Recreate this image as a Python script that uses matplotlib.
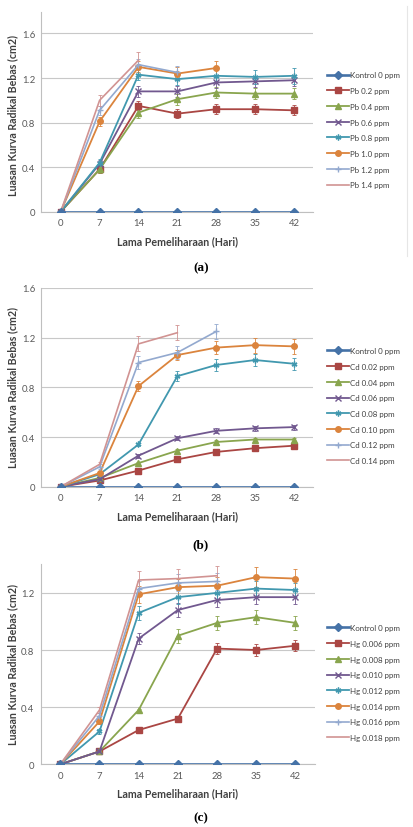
import matplotlib
matplotlib.use("Agg")
import matplotlib.pyplot as plt
from matplotlib.lines import Line2D
import numpy as np

days = [0, 7, 14, 21, 28, 35, 42]

# ---------------- Panel (a): Pb ----------------
pb_labels = ["Kontrol 0 ppm", "Pb 0.2 ppm", "Pb 0.4 ppm", "Pb 0.6 ppm",
             "Pb 0.8 ppm", "Pb 1.0 ppm", "Pb 1.2 ppm", "Pb 1.4 ppm"]
pb_kontrol = [0, 0, 0, 0, 0, 0, 0]
pb_02 = [0, 0.38, 0.95, 0.88, 0.92, 0.92, 0.91]
pb_04 = [0, 0.38, 0.89, 1.01, 1.07, 1.06, 1.06]
pb_06 = [0, 0.43, 1.08, 1.08, 1.16, 1.17, 1.18]
pb_08 = [0, 0.44, 1.23, 1.19, 1.22, 1.21, 1.22]
pb_10 = [0, 0.81, 1.30, 1.24, 1.29]
pb_12 = [0, 0.91, 1.32, 1.25]
pb_14 = [0, 1.00, 1.36]
pb_err = [None,
          [0, 0.03, 0.04, 0.04, 0.045, 0.045, 0.045],
          [0, 0.03, 0.05, 0.05, 0.05, 0.05, 0.05],
          [0, 0.03, 0.05, 0.05, 0.05, 0.05, 0.05],
          [0, 0.03, 0.05, 0.05, 0.05, 0.06, 0.07],
          [0, 0.04, 0.05, 0.06, 0.06],
          [0, 0.04, 0.05, 0.06],
          [0, 0.05, 0.07]]

# ---------------- Panel (b): Cd ----------------
cd_labels = ["Kontrol 0 ppm", "Cd 0.02 ppm", "Cd 0.04 ppm", "Cd 0.06 ppm",
             "Cd 0.08 ppm", "Cd 0.10 ppm", "Cd 0.12 ppm", "Cd 0.14 ppm"]
cd_kontrol = [0, 0, 0, 0, 0, 0, 0]
cd_002 = [0, 0.05, 0.13, 0.22, 0.28, 0.31, 0.33]
cd_004 = [0, 0.07, 0.19, 0.29, 0.36, 0.38, 0.38]
cd_006 = [0, 0.06, 0.25, 0.39, 0.45, 0.47, 0.48]
cd_008 = [0, 0.10, 0.34, 0.89, 0.98, 1.02, 0.99]
cd_010 = [0, 0.11, 0.81, 1.06, 1.12, 1.14, 1.13]
cd_012 = [0, 0.16, 1.00, 1.08, 1.25]
cd_014 = [0, 0.18, 1.15, 1.24]
cd_err = [None,
          [0, 0.01, 0.01, 0.01, 0.01, 0.01, 0.01],
          [0, 0.01, 0.01, 0.01, 0.015, 0.015, 0.015],
          [0, 0.01, 0.015, 0.015, 0.02, 0.02, 0.02],
          [0, 0.01, 0.015, 0.04, 0.05, 0.05, 0.05],
          [0, 0.01, 0.04, 0.04, 0.05, 0.06, 0.06],
          [0, 0.02, 0.05, 0.05, 0.06],
          [0, 0.02, 0.06, 0.06]]

# ---------------- Panel (c): Hg ----------------
hg_labels = ["Kontrol 0 ppm", "Hg 0.006 ppm", "Hg 0.008 ppm", "Hg 0.010 ppm",
             "Hg 0.012 ppm", "Hg 0.014 ppm", "Hg 0.016 ppm", "Hg 0.018 ppm"]
hg_kontrol = [0, 0, 0, 0, 0, 0, 0]
hg_0006 = [0, 0.09, 0.24, 0.32, 0.81, 0.80, 0.83]
hg_0008 = [0, 0.09, 0.38, 0.90, 0.99, 1.03, 0.99]
hg_0010 = [0, 0.09, 0.88, 1.08, 1.15, 1.17, 1.17]
hg_0012 = [0, 0.23, 1.06, 1.17, 1.20, 1.23, 1.22]
hg_0014 = [0, 0.30, 1.19, 1.24, 1.25, 1.31, 1.30]
hg_0016 = [0, 0.34, 1.23, 1.27, 1.28]
hg_0018 = [0, 0.38, 1.29, 1.30, 1.32]
hg_err = [None,
          [0, 0.01, 0.01, 0.01, 0.04, 0.04, 0.04],
          [0, 0.01, 0.01, 0.05, 0.05, 0.05, 0.05],
          [0, 0.01, 0.04, 0.05, 0.05, 0.05, 0.05],
          [0, 0.02, 0.05, 0.05, 0.05, 0.05, 0.05],
          [0, 0.02, 0.06, 0.06, 0.06, 0.07, 0.07],
          [0, 0.02, 0.05, 0.06, 0.06],
          [0, 0.02, 0.06, 0.07, 0.07]]

colors = ["#4572A7", "#AA4643", "#89A54E", "#71588F",
          "#4198AF", "#DB843D", "#93A9CF", "#D19392"]
markers = ["D", "s", "^", "x", (6, 2, 0), "o", "+", ""]
msizes = [4.2, 4.0, 4.0, 4.0, 4.2, 4.0, 4.2, 0]
lwidths = [1.9, 1.3, 1.3, 1.3, 1.3, 1.3, 1.2, 1.2]

font = "Lato"
tick_col = "#595959"
text_col = "#404040"

fig = plt.figure(figsize=(4.14, 8.28), dpi=100)
W, H = 414.0, 828.0

panels = [
    dict(series=[pb_kontrol, pb_02, pb_04, pb_06, pb_08, pb_10, pb_12, pb_14],
         labels=pb_labels, err=pb_err, ylim=1.79, bottom=212.7, top=13.3,
         leg_c=130.9, ylab_c=115, xlab_y=242, tag="(a)", tag_y=268,
         left=41.3, right=313.4),
    dict(series=[cd_kontrol, cd_002, cd_004, cd_006, cd_008, cd_010, cd_012, cd_014],
         labels=cd_labels, err=cd_err, ylim=1.6, bottom=487.7, top=289.0,
         leg_c=406.7, ylab_c=388, xlab_y=517, tag="(b)", tag_y=545,
         left=41.3, right=313.4),
    dict(series=[hg_kontrol, hg_0006, hg_0008, hg_0010, hg_0012, hg_0014, hg_0016, hg_0018],
         labels=hg_labels, err=hg_err, ylim=1.40, bottom=765.3, top=565.3,
         leg_c=683.7, ylab_c=665, xlab_y=794, tag="(c)", tag_y=818,
         left=40.7, right=315.0),
]

for p in panels:
    ax = fig.add_axes([p["left"] / W, 1 - p["bottom"] / H,
                       (p["right"] - p["left"]) / W, (p["bottom"] - p["top"]) / H])
    ax.set_xlim(-3.5, 45.5)
    ax.set_ylim(0, p["ylim"])
    ax.set_yticks([0, 0.4, 0.8, 1.2, 1.6] if p["ylim"] >= 1.6 else [0, 0.4, 0.8, 1.2])
    ax.set_yticklabels(["0" if t == 0 else f"{t:.1f}" for t in ax.get_yticks()])
    ax.set_xticks(days)
    ax.grid(axis="y", color="#C8C8C8", lw=0.8)
    ax.set_axisbelow(True)
    for s in ["top", "right"]:
        ax.spines[s].set_visible(False)
    ax.spines["left"].set_color("#BFBFBF")
    ax.spines["bottom"].set_color("#BFBFBF")
    ax.spines["left"].set_linewidth(0.8)
    ax.spines["bottom"].set_linewidth(0.8)
    ax.tick_params(length=0, labelsize=6.8, labelcolor=tick_col, pad=4.5)
    for lab in ax.get_xticklabels() + ax.get_yticklabels():
        lab.set_fontfamily(font)

    handles = []
    for i, (vals, lab) in enumerate(zip(p["series"], p["labels"])):
        x = days[:len(vals)]
        err = p["err"][i]
        if err is not None:
            ax.errorbar(x, vals, yerr=err, fmt="none", ecolor=colors[i],
                        elinewidth=0.6, capsize=1.6, capthick=0.6, zorder=2 + i * 0.1)
        ln, = ax.plot(x, vals, color=colors[i], lw=lwidths[i], marker=markers[i],
                      ms=msizes[i], mew=1.0, mfc=colors[i], mec=colors[i],
                      label=lab, zorder=3 + i * 0.1)
        handles.append(ln)
    handles[0].set_zorder(5)

    leg = ax.legend(handles=handles, loc="center left",
                    bbox_to_anchor=(327 / W, 1 - p["leg_c"] / H),
                    bbox_transform=fig.transFigure, frameon=False,
                    prop={"family": font, "size": 5.7}, labelspacing=1.1,
                    handlelength=2.8, handletextpad=0.15, borderpad=0,
                    borderaxespad=0)
    for t in leg.get_texts():
        t.set_color(text_col)

    fig.text(12.7 / W, 1 - p["ylab_c"] / H, "Luasan Kurva Radikal Bebas (cm2)",
             rotation=90, ha="center", va="center", fontsize=7.7,
             fontweight="bold", family=font, color=text_col)
    fig.text(177.7 / W, 1 - p["xlab_y"] / H, "Lama Pemeliharaan (Hari)",
             ha="center", va="center", fontsize=7.7, fontweight="bold",
             family=font, color=text_col)
    fig.text(201 / W, 1 - p["tag_y"] / H, p["tag"], ha="center", va="center",
             fontsize=9.5, fontweight="bold", family="Liberation Serif",
             color="black")

# faint chart-area border at the right of panel (a)
fig.add_artist(Line2D([407 / W, 407 / W], [1 - 257 / H, 1 - 7 / H],
                      transform=fig.transFigure, color="#E6E6E6", lw=0.8))

fig.savefig("out.png", dpi=100)
